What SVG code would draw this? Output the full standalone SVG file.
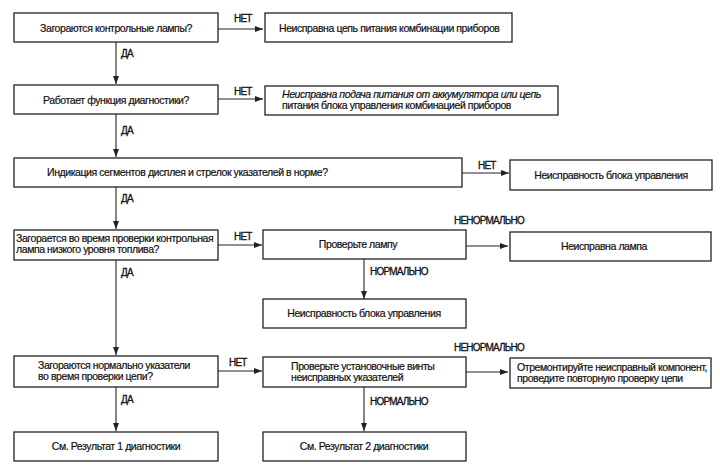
<svg xmlns="http://www.w3.org/2000/svg" width="720" height="470" viewBox="0 0 720 470">
<style>
.box{fill:#fff;stroke:#222;stroke-width:1.3}
.t{font-family:"Liberation Sans",Arial,sans-serif;font-size:10.5px;letter-spacing:-0.42px;fill:#111;stroke:#111;stroke-width:0.2}
.c{text-anchor:middle}
.lb{font-family:"Liberation Sans",Arial,sans-serif;font-size:10px;letter-spacing:-0.8px;fill:#111;stroke:#111;stroke-width:0.3}
.ln{stroke:#222;stroke-width:1.1;fill:none}
</style>
<defs>
<marker id="ah" viewBox="0 0 8 6" refX="8" refY="3" markerWidth="8" markerHeight="6" markerUnits="userSpaceOnUse" orient="auto">
<path d="M0,0 L8,3 L0,6 Z" fill="#222"/>
</marker>
</defs>
<rect width="720" height="470" fill="#fff"/>
<g id="connectors">
<path class="ln" d="M218,29 H263" marker-end="url(#ah)"/>
<path class="ln" d="M116,42 V84" marker-end="url(#ah)"/>
<path class="ln" d="M218,99 H263" marker-end="url(#ah)"/>
<path class="ln" d="M116,114 V157" marker-end="url(#ah)"/>
<path class="ln" d="M462,173 H509" marker-end="url(#ah)"/>
<path class="ln" d="M116,187 V229" marker-end="url(#ah)"/>
<path class="ln" d="M218,245 H262" marker-end="url(#ah)"/>
<path class="ln" d="M466,246 H508" marker-end="url(#ah)"/>
<path class="ln" d="M364,259 V299" marker-end="url(#ah)"/>
<path class="ln" d="M116,260 V355" marker-end="url(#ah)"/>
<path class="ln" d="M218,371 H262" marker-end="url(#ah)"/>
<path class="ln" d="M466,372 H508" marker-end="url(#ah)"/>
<path class="ln" d="M364,387 V431" marker-end="url(#ah)"/>
<path class="ln" d="M116,387 V431" marker-end="url(#ah)"/>
<text class="lb" x="234" y="22">НЕТ</text>
<text class="lb" x="121" y="57">ДА</text>
<text class="lb" x="234" y="95">НЕТ</text>
<text class="lb" x="121" y="134">ДА</text>
<text class="lb" x="478" y="169">НЕТ</text>
<text class="lb" x="121" y="202">ДА</text>
<text class="lb" x="234" y="240">НЕТ</text>
<text class="lb" x="454" y="224">НЕНОРМАЛЬНО</text>
<text class="lb" x="370" y="275">НОРМАЛЬНО</text>
<text class="lb" x="121" y="276">ДА</text>
<text class="lb" x="229" y="366">НЕТ</text>
<text class="lb" x="454" y="351">НЕНОРМАЛЬНО</text>
<text class="lb" x="370" y="405">НОРМАЛЬНО</text>
<text class="lb" x="121" y="403">ДА</text>
</g>
<g id="n1"><rect class="box" x="14" y="13" width="204" height="29"/><text class="t c" x="116" y="32">Загораются контрольные лампы?</text></g>
<g id="n1r"><rect class="box" x="265" y="13" width="247" height="29"/><text class="t" x="279" y="32">Неисправна цепь питания комбинации приборов</text></g>
<g id="n2"><rect class="box" x="14" y="85" width="204" height="29"/><text class="t c" x="116" y="104">Работает функция диагностики?</text></g>
<g id="n2r"><rect class="box" x="265" y="86" width="293" height="29"/><text class="t" x="282" y="98" font-style="italic">Неисправна подача питания от аккумулятора или цепь</text><text class="t" x="282" y="109">питания блока управления комбинацией приборов</text></g>
<g id="n3"><rect class="box" x="14" y="158" width="448" height="29"/><text class="t" x="47" y="176">Индикация сегментов дисплея и стрелок указателей в норме?</text></g>
<g id="n3r"><rect class="box" x="510" y="160" width="202" height="30"/><text class="t c" x="611" y="179">Неисправность блока управления</text></g>
<g id="n4"><rect class="box" x="14" y="230" width="204" height="30"/><text class="t" x="16" y="242">Загорается во время проверки контрольная</text><text class="t" x="16" y="253">лампа низкого уровня топлива?</text></g>
<g id="n4m"><rect class="box" x="263" y="230" width="203" height="29"/><text class="t c" x="358" y="248">Проверьте лампу</text></g>
<g id="n4r"><rect class="box" x="510" y="232" width="201" height="29"/><text class="t c" x="604" y="250">Неисправна лампа</text></g>
<g id="n5m"><rect class="box" x="263" y="299" width="203" height="29"/><text class="t c" x="364" y="317">Неисправность блока управления</text></g>
<g id="n6"><rect class="box" x="14" y="356" width="204" height="31"/><text class="t" x="38" y="369">Загораются нормально указатели</text><text class="t" x="38" y="380">во время проверки цепи?</text></g>
<g id="n6m"><rect class="box" x="263" y="357" width="203" height="30"/><text class="t" x="291" y="370">Проверьте установочные винты</text><text class="t" x="291" y="381">неисправных указателей</text></g>
<g id="n6r"><rect class="box" x="510" y="358" width="201" height="30"/><text class="t" x="517" y="371">Отремонтируйте неисправный компонент,</text><text class="t" x="517" y="382">проведите повторную проверку цепи</text></g>
<g id="n7"><rect class="box" x="14" y="432" width="204" height="29"/><text class="t c" x="116" y="450">См. Результат 1 диагностики</text></g>
<g id="n7m"><rect class="box" x="263" y="432" width="203" height="29"/><text class="t c" x="364" y="450">См. Результат 2 диагностики</text></g>
</svg>
